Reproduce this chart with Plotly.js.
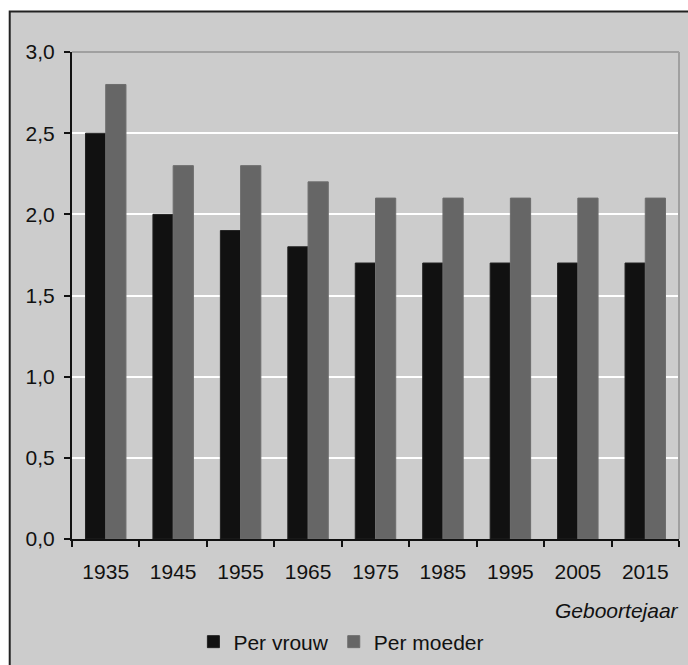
<!DOCTYPE html>
<html>
<head>
<meta charset="utf-8">
<script src="https://cdn.plot.ly/plotly-3.0.1.min.js"></script>
<style>html,body{margin:0;padding:0;background:#fff;}#chart{width:688px;height:665px;}</style>
</head>
<body>
<div id="chart"></div>
<script>
const years = ["1935","1945","1955","1965","1975","1985","1995","2005","2015"];
const perVrouw = [2.5, 2.0, 1.9, 1.8, 1.7, 1.7, 1.7, 1.7, 1.7];
const perMoeder = [2.8, 2.3, 2.3, 2.2, 2.1, 2.1, 2.1, 2.1, 2.1];
const seriesNames = ["Per vrouw", "Per moeder"];
const xTitle = "Geboortejaar";

const FONT = "Liberation Sans, Arial, sans-serif";
const traces = [
  {type:"bar", name:seriesNames[0], x:years, y:perVrouw, marker:{color:"#111111", line:{color:"#222222", width:1}}},
  {type:"bar", name:seriesNames[1], x:years, y:perMoeder, marker:{color:"#666666", line:{color:"#6e6e6e", width:1}}}
];
const layout = {
  width:688, height:665,
  margin:{l:72, r:9, t:52, b:126, autoexpand:false},
  paper_bgcolor:"#ffffff",
  plot_bgcolor:"#cccccc",
  barmode:"group", bargap:0.4, bargroupgap:0,
  separators:",.",
  font:{family:FONT, size:21, color:"#111111"},
  showlegend:true,
  legend:{orientation:"h", x:0.2, xanchor:"left", y:-0.2115, yanchor:"middle",
          bgcolor:"rgba(0,0,0,0)", font:{family:FONT, size:21, color:"#111111"},
          traceorder:"normal"},
  xaxis:{type:"category", showline:true, linecolor:"#111111", linewidth:2,
         ticks:"outside", tickson:"boundaries", ticklen:6, tickwidth:2, tickcolor:"#111111",
         ticklabelstandoff:13, showgrid:false, zeroline:false, fixedrange:true, automargin:false},
  yaxis:{range:[0,3], dtick:0.5, tick0:0, tickformat:".1f", showline:true, linecolor:"#111111", linewidth:2,
         ticks:"outside", ticklen:6, tickwidth:2, tickcolor:"#111111", ticklabelstandoff:5,
         showgrid:true, gridcolor:"#ffffff", gridwidth:2, zeroline:false, fixedrange:true, automargin:false},
  shapes:[
    {type:"rect", xref:"paper", yref:"paper", x0:-0.1026, x1:2, y0:-1, y1:1.0832,
     line:{color:"#222222", width:2}, fillcolor:"#cccccc", layer:"below"},
    {type:"line", xref:"paper", yref:"paper", x0:0, x1:1, y0:1, y1:1, line:{color:"#a0a0a0", width:2}, layer:"above"},
    {type:"line", xref:"paper", yref:"paper", x0:1, x1:1, y0:0, y1:1, line:{color:"#a0a0a0", width:2}, layer:"above"}
  ],
  annotations:[
    {text:xTitle, xref:"paper", yref:"paper", x:1.003, xanchor:"right", y:-0.146, yanchor:"middle",
     showarrow:false, font:{family:FONT, size:21, style:"italic", color:"#111111"}}
  ]
};
Plotly.newPlot("chart", traces, layout, {displayModeBar:false, staticPlot:true});
</script>
</body>
</html>
